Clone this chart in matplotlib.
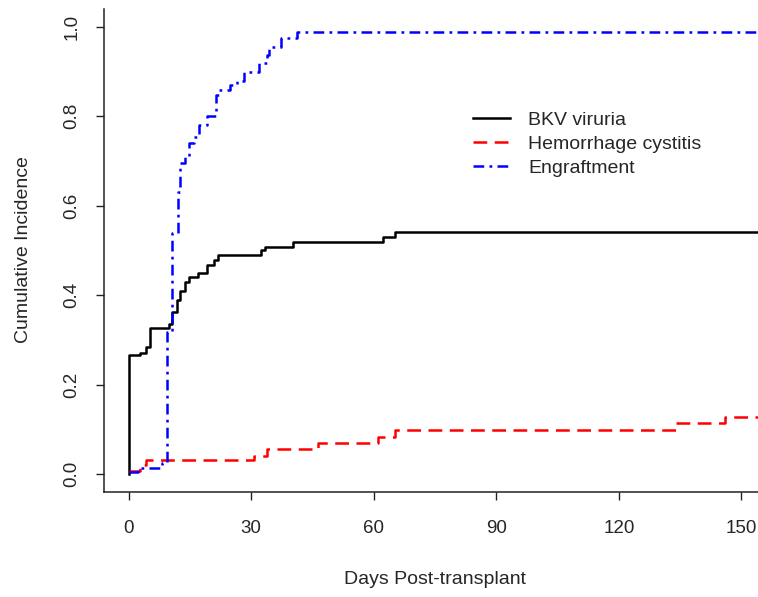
import numpy as np
import matplotlib.pyplot as plt

plt.rcParams['font.family'] = ['Liberation Sans', 'DejaVu Sans']

# step curves (day, cumulative incidence)
bkv_days = [0, 0.01, 2.7, 4.2, 5.2, 9.9, 10.7, 11.9, 12.7, 13.9, 14.7, 17.1, 19.1, 20.8, 22.0, 32.3, 33.5, 40.3, 62.3, 65.3, 155]
bkv_ci = [0.0, 0.266, 0.27, 0.284, 0.327, 0.336, 0.362, 0.39, 0.41, 0.43, 0.44, 0.45, 0.467, 0.478, 0.49, 0.501, 0.508, 0.519, 0.53, 0.542, 0.542]

hc_days = [0, 2.7, 4.2, 30.6, 34.0, 46.4, 61.0, 65.3, 134.0, 146.0, 155]
hc_ci = [0.008, 0.02, 0.031, 0.04, 0.056, 0.069, 0.083, 0.098, 0.114, 0.128, 0.128]

eng_days = [0, 2.2, 8.3, 9.3, 10.7, 12.1, 12.7, 13.9, 14.7, 16.0, 17.2, 19.1, 21.3, 22.1, 24.9, 26.6, 28.2, 31.9, 33.9, 34.3, 37.2, 41.2, 155]
eng_ci = [0.004, 0.013, 0.025, 0.318, 0.54, 0.63, 0.696, 0.709, 0.74, 0.754, 0.78, 0.80, 0.848, 0.859, 0.87, 0.88, 0.90, 0.92, 0.937, 0.955, 0.975, 0.989, 0.989]

labels = ['BKV viruria', 'Hemorrhage cystitis', 'Engraftment']
x_ticks = [0, 30, 60, 90, 120, 150]
y_ticks = [0.0, 0.2, 0.4, 0.6, 0.8, 1.0]

txt = '#262626'

fig = plt.figure(figsize=(7.58, 5.97), dpi=100)
# axes box runs past the right edge, like the cropped original
ax = fig.add_axes([104 / 758, 1 - 492 / 597, (766 - 104) / 758, (492 - 9) / 597])

lw = 1.8
ax.step(bkv_days, bkv_ci, where='post', color='black', lw=lw, label=labels[0])
ax.step(hc_days, hc_ci, where='post', color='#ff0000', lw=lw, linestyle=(0, (5.5, 3)), label=labels[1])
ax.step(eng_days, eng_ci, where='post', color='#0000ff', lw=lw, linestyle=(0, (4.3, 2.1, 1.1, 2.1)), label=labels[2])

ax.set_xlim(-6, 156)
ax.set_ylim(-0.04, 1.04)

ax.set_xticks(x_ticks)
ax.set_xticklabels([str(t) for t in x_ticks])
ax.set_yticks(y_ticks)
ax.set_yticklabels(['%.1f' % t for t in y_ticks], rotation=90, va='center')

ax.spines['top'].set_visible(False)
ax.spines['right'].set_visible(False)
for s in ['left', 'bottom']:
   ax.spines[s].set_linewidth(1.1)
   ax.spines[s].set_color('#222222')

ax.tick_params(axis='both', direction='out', length=6, width=1.0, color='#222222',
               labelsize=13.5, labelcolor=txt)
ax.tick_params(axis='x', pad=14)
ax.tick_params(axis='y', pad=11)

fig.text(24 / 758, 1 - 250 / 597, 'Cumulative Incidence', rotation=90, ha='center', va='center',
         fontsize=14, color=txt)
fig.text(435 / 758, 1 - 579 / 597, 'Days Post-transplant', ha='center', va='center',
         fontsize=14, color=txt)

leg = ax.legend(loc='upper left', bbox_to_anchor=(473 / 758, 1 - 111 / 597), bbox_transform=fig.transFigure,
                frameon=False, fontsize=14, borderpad=0, borderaxespad=0,
                handlelength=1.9, handletextpad=0.93, labelspacing=0.33)
for t in leg.get_texts():
   t.set_color(txt)

fig.savefig('out.png', dpi=100)
